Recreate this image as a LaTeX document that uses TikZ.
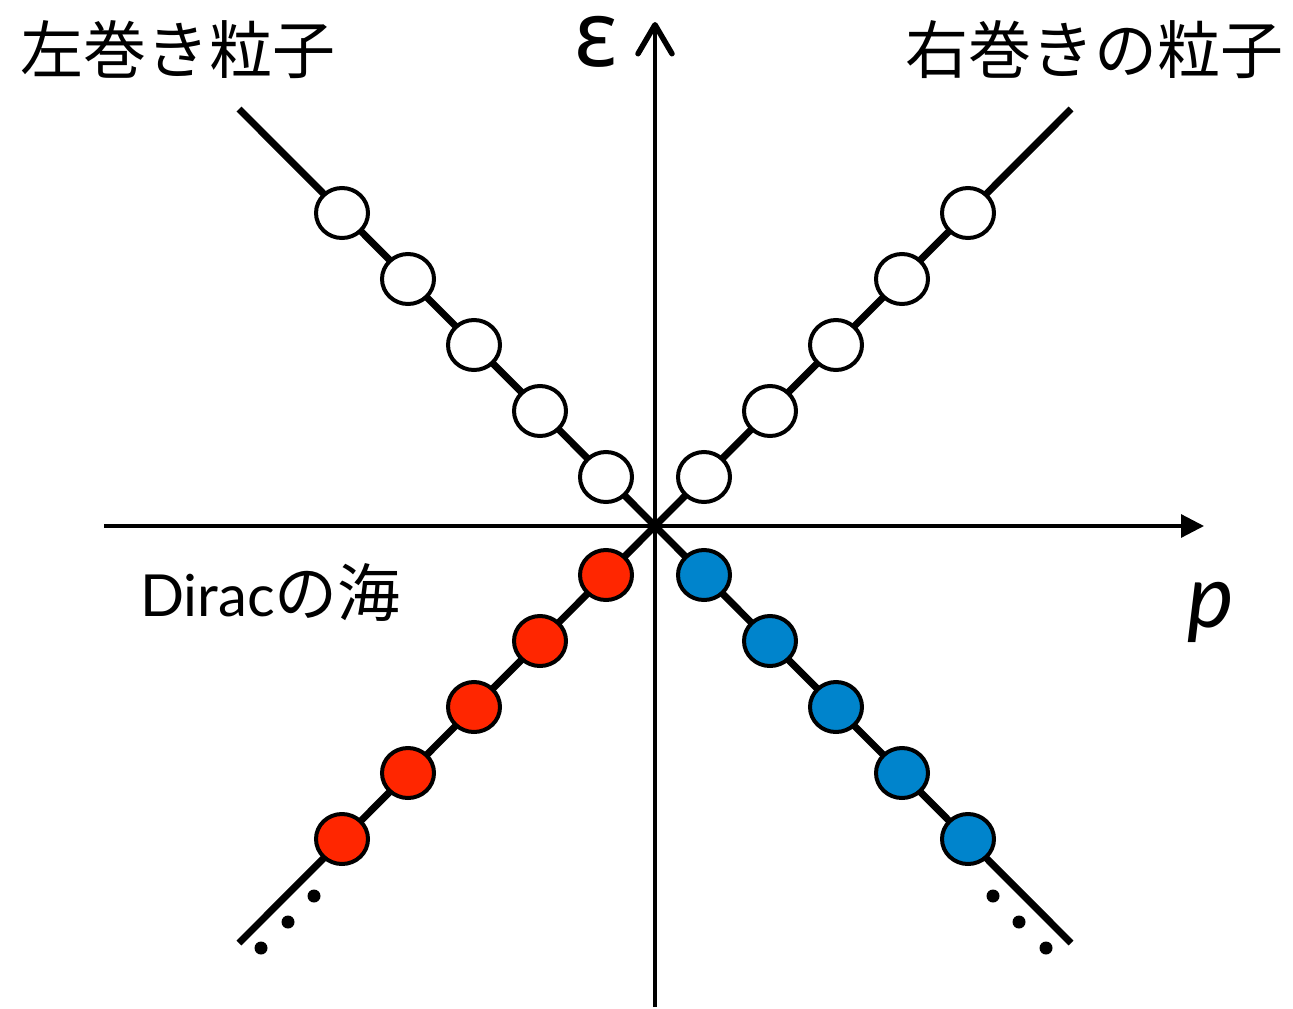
\documentclass[tikz,border=0pt]{standalone}
\usepackage{fontspec}
\setmainfont{Lato}
\newfontfamily\jp{Noto Sans CJK JP}
\newfontfamily\gr{Noto Sans}
\usetikzlibrary{arrows.meta,shapes.geometric}
\definecolor{dred}{RGB}{255,38,0}
\definecolor{dblue}{RGB}{0,132,204}
\begin{document}
\begin{tikzpicture}[x=1pt,y=-1pt,
  particle/.style={ellipse, draw=black, line width=4pt, minimum width=52pt, minimum height=50pt, inner sep=0pt},
  hole/.style={particle, fill=white},
  redp/.style={particle, fill=dred},
  bluep/.style={particle, fill=dblue},
  branch/.style={line width=7pt},
  axis/.style={line width=3.2pt},
  dotn/.style={circle, fill=black, inner sep=0pt, minimum size=13pt},
  lbl/.style={inner sep=0pt}]
\useasboundingbox (0,0) rectangle (1293,1009);
\fill[white] (0,0) rectangle (1293,1009);
\coordinate (O) at (655,526);
\coordinate (ulE) at (239,109);
\coordinate (urE) at (1071,109);
\coordinate (llE) at (239,943);
\coordinate (lrE) at (1071,943);
\coordinate (xs) at (104,526);
\coordinate (xe) at (1204,526);
\coordinate (ys) at (655,1007);
\coordinate (ye) at (655,22);
% axes
\draw[axis, -{Triangle[length=23pt,width=23pt]}] (xs) -- (xe);
\draw[axis, -{Straight Barb[length=29pt,width=34pt,line width=5.5pt,round]}] (ys) -- (ye);
% branches
\draw[branch] (ulE) -- (lrE);
\draw[branch] (urE) -- (llE);
% particles
\foreach \d [count=\i] in {49,115,181,247,313} {
  \node[hole]  (ul\i) at (655-\d,526-\d) {};
  \node[hole]  (ur\i) at (655+\d,526-\d) {};
  \node[redp]  (ll\i) at (655-\d,526+\d) {};
  \node[bluep] (lr\i) at (655+\d,526+\d) {};
}
% dots
\node[dotn] (ld1) at (314,896) {};
\node[dotn] (ld2) at (288,922) {};
\node[dotn] (ld3) at (261,948) {};
\node[dotn] (rd1) at (993,896) {};
\node[dotn] (rd2) at (1019,922) {};
\node[dotn] (rd3) at (1046,948) {};
% labels
\node[lbl, font=\jp\fontsize{63}{63}\selectfont] (ltitle) at (178,50) {左巻き粒子};
\node[lbl, font=\jp\fontsize{63}{63}\selectfont] (rtitle) at (1094,50) {右巻きの粒子};
\node[lbl, font=\gr\bfseries\fontsize{92}{92}\selectfont] (eps) at (596,42) {ε};
\node[lbl, anchor=base west, font=\fontsize{58}{58}\selectfont] (dirac) at (140,616) {Dirac{\jp\fontsize{63}{63}\selectfont の海}};
\node[lbl, anchor=base, font=\itshape\fontsize{88}{88}\selectfont] (plbl) at (1211,627) {p};
\end{tikzpicture}
\end{document}
